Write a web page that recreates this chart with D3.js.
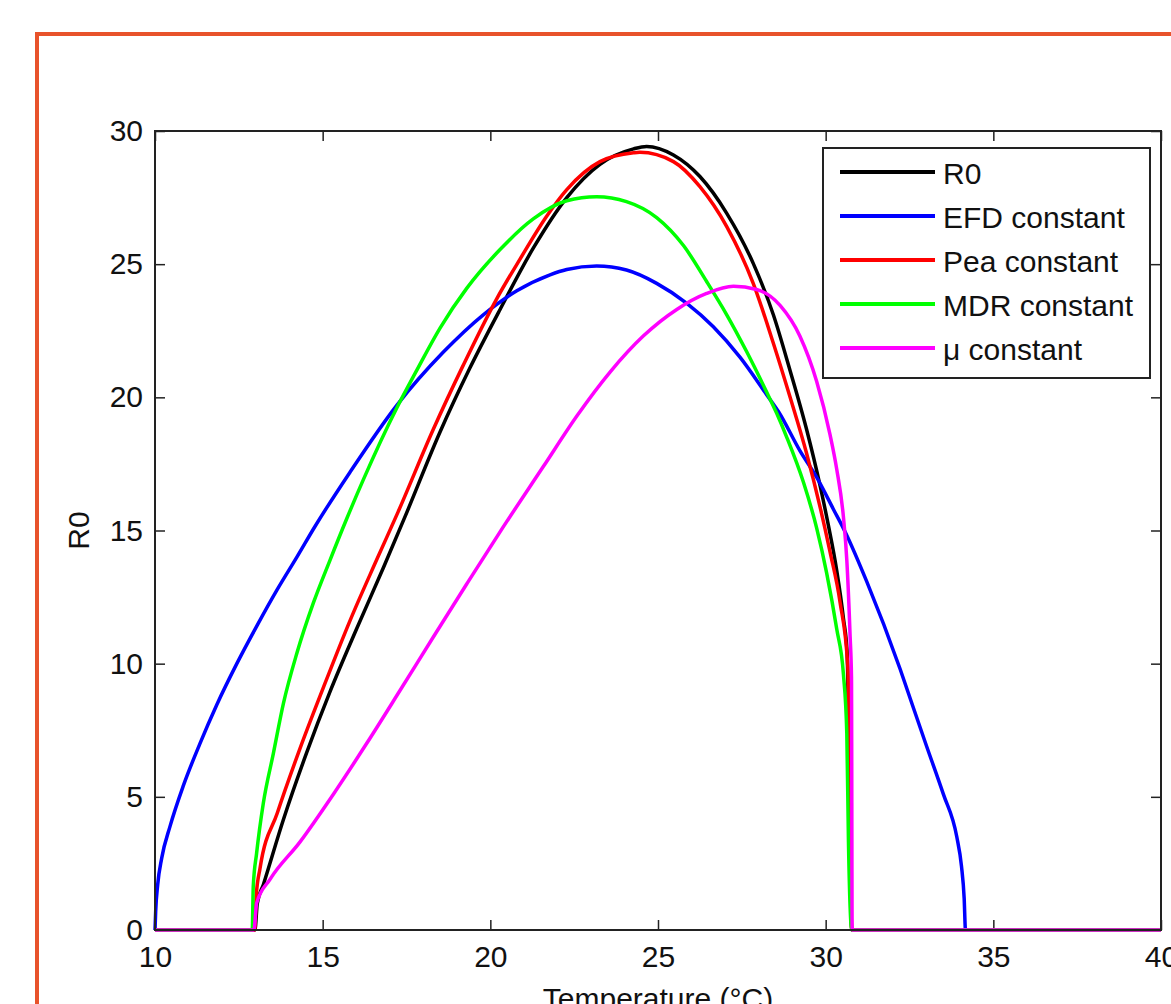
<!DOCTYPE html>
<html>
<head>
<meta charset="utf-8">
<script src="https://cdn.jsdelivr.net/npm/d3@7"></script>
<style>
  html, body { margin: 0; padding: 0; background: #fff; overflow: hidden; }
  svg { display: block; }
  text { font-family: "Liberation Sans", Arial, Helvetica, sans-serif; fill: #111; }
</style>
</head>
<body>
<svg id="chart" width="1171" height="1004"></svg>
<script>
// ---- data ----
const xTicks = [10, 15, 20, 25, 30, 35, 40];
const yTicks = [0, 5, 10, 15, 20, 25, 30];
const seriesNames = ["R0", "EFD constant", "Pea constant", "MDR constant", "\u03bc constant"];
const seriesColors = ["#000000", "#0000ff", "#ff0000", "#00ff00", "#ff00ff"];

const r0Temp = [10, 12.98, 13.05, 13.23, 13.83, 14.52, 15.22, 16.01, 16.81, 17.45, 18.5, 19.39, 20.29, 21.28, 22.28, 23.27, 24.27, 24.66, 25.46, 26.25, 27.05, 27.84, 28.44, 28.94, 29.43, 29.83, 30.08, 30.33, 30.53, 30.64, 30.78, 40];
const r0Vals = [0, 0, 1.0, 1.7, 4.15, 6.65, 8.95, 11.3, 13.6, 15.5, 18.7, 21.1, 23.3, 25.6, 27.5, 28.75, 29.33, 29.42, 29.1, 28.29, 26.91, 25.03, 23.1, 21.0, 18.8, 16.7, 15.2, 13.5, 11.7, 10.4, 0, 0];

const efdTemp = [10, 10.02, 10.08, 10.2, 10.45, 10.84, 11.34, 11.84, 12.44, 13.03, 13.63, 14.23, 14.77, 15.82, 17.21, 18.6, 19.79, 20.79, 21.78, 22.28, 23.17, 24.06, 24.96, 25.86, 26.65, 27.45, 28.24, 28.6, 29.23, 29.73, 30.23, 30.6, 31.22, 32.22, 32.6, 33.01, 33.51, 33.91, 34.05, 34.13, 34.17, 40];
const efdVals = [0, 0.7, 1.7, 2.7, 3.9, 5.4, 7.0, 8.45, 10.0, 11.4, 12.75, 14.0, 15.15, 17.2, 19.7, 21.7, 23.1, 24.0, 24.6, 24.8, 24.93, 24.78, 24.28, 23.53, 22.65, 21.5, 20.1, 19.45, 18.0, 17.0, 15.8, 14.9, 13.1, 9.8, 8.4, 6.9, 5.1, 3.5, 2.4, 1.2, 0, 0];

const peaTemp = [10, 12.97, 13.02, 13.13, 13.65, 14.32, 15.02, 15.81, 16.61, 17.25, 18.3, 19.19, 20.19, 20.89, 21.68, 22.28, 23.27, 24.27, 24.46, 25.46, 26.25, 27.05, 27.84, 28.44, 28.94, 29.43, 29.83, 30.13, 30.43, 30.66, 30.78, 40];
const peaVals = [0, 0, 1.3, 2.3, 4.4, 6.8, 9.1, 11.6, 13.9, 15.7, 18.8, 21.2, 23.7, 25.2, 26.8, 27.8, 28.85, 29.18, 29.2, 28.85, 27.91, 26.41, 24.28, 22.03, 20.0, 17.9, 15.9, 14.2, 12.3, 9.9, 0, 0];

const mdrTemp = [10, 12.9, 12.93, 13.03, 13.23, 13.53, 13.83, 14.23, 14.72, 15.22, 15.72, 16.21, 17.21, 17.8, 18.5, 19.3, 20.29, 21.28, 22.28, 23.17, 24.06, 24.96, 25.76, 26.45, 27.05, 27.65, 28.24, 28.54, 28.84, 29.34, 29.73, 30.03, 30.33, 30.53, 30.63, 30.68, 30.78, 40];
const mdrVals = [0, 0, 1.63, 2.88, 4.76, 6.63, 8.51, 10.39, 12.27, 13.89, 15.45, 16.9, 19.6, 21.0, 22.6, 24.1, 25.55, 26.7, 27.38, 27.53, 27.35, 26.75, 25.7, 24.35, 23.1, 21.7, 20.2, 19.4, 18.5, 16.8, 15.1, 13.4, 11.3, 9.6, 7.4, 3.3, 0, 0];

const muTemp = [10, 12.95, 13.03, 13.43, 14.32, 15.32, 16.31, 17.31, 18.3, 19.3, 20.29, 21.58, 22.58, 23.57, 24.56, 25.56, 26.45, 27.25, 27.94, 28.64, 29.23, 29.73, 30.13, 30.33, 30.53, 30.63, 30.73, 30.77, 30.79, 40];
const muVals = [0, 0, 1.0, 1.9, 3.3, 5.1, 7.0, 9.0, 11.0, 13.0, 14.95, 17.4, 19.3, 20.95, 22.3, 23.3, 23.9, 24.17, 24.05, 23.45, 22.3, 20.6, 18.6, 17.3, 15.5, 13.9, 11.0, 9.5, 0, 0];

const seriesTemps = [r0Temp, efdTemp, peaTemp, mdrTemp, muTemp];
const seriesVals = [r0Vals, efdVals, peaVals, mdrVals, muVals];

// ---- drawing ----
const svg = d3.select("#chart");
const x = d3.scaleLinear().domain([10, 40]).range([155, 1161]);
const y = d3.scaleLinear().domain([0, 30]).range([930, 131]);

// orange frame
svg.append("rect")
  .attr("x", 37).attr("y", 34).attr("width", 1300).attr("height", 1200)
  .attr("fill", "none").attr("stroke", "#e8532b").attr("stroke-width", 4);

const fontSize = 30;

// axes
const gBottom = svg.append("g").attr("transform", `translate(0,${y(0)})`)
  .call(d3.axisBottom(x).tickValues(xTicks).tickSize(-10).tickSizeOuter(0).tickPadding(16).tickFormat(d3.format("d")));
const gTop = svg.append("g").attr("transform", `translate(0,${y(30)})`)
  .call(d3.axisTop(x).tickValues(xTicks).tickSize(-10).tickSizeOuter(0).tickFormat(""));
const gLeft = svg.append("g").attr("transform", `translate(${x(10)},0)`)
  .call(d3.axisLeft(y).tickValues(yTicks).tickSize(-10).tickSizeOuter(0).tickPadding(12).tickFormat(d3.format("d")));
const gRight = svg.append("g").attr("transform", `translate(${x(40)},0)`)
  .call(d3.axisRight(y).tickValues(yTicks).tickSize(-10).tickSizeOuter(0).tickFormat(""));

[gBottom, gTop, gLeft, gRight].forEach(g => {
  g.select(".domain").remove();
  g.selectAll(".tick line").attr("stroke", "#222").attr("stroke-width", 1.5);
  g.selectAll("text").attr("font-size", fontSize)
    .attr("font-family", '"Liberation Sans", Arial, sans-serif').attr("fill", "#111");
});

// curves
const line = d3.line().x(d => x(d[0])).y(d => y(d[1])).curve(d3.curveMonotoneX);
seriesTemps.forEach((temps, i) => {
  const pts = temps.map((t, j) => [t, seriesVals[i][j]]);
  svg.append("path")
    .attr("d", line(pts))
    .attr("fill", "none")
    .attr("stroke", seriesColors[i])
    .attr("stroke-width", 3.5)
    .attr("stroke-linejoin", "round");
});

// plot box
svg.append("rect")
  .attr("x", x(10)).attr("y", y(30))
  .attr("width", x(40) - x(10)).attr("height", y(0) - y(30))
  .attr("fill", "none").attr("stroke", "#222").attr("stroke-width", 2);

// axis titles
svg.append("text")
  .attr("x", (x(10) + x(40)) / 2).attr("y", 1009)
  .attr("text-anchor", "middle").attr("font-size", fontSize)
  .text("Temperature (\u00b0C)");
svg.append("text")
  .attr("transform", `translate(89,${y(15)}) rotate(-90)`)
  .attr("text-anchor", "middle").attr("font-size", fontSize)
  .text("R0");

// legend
const leg = svg.append("g");
leg.append("rect")
  .attr("x", 823).attr("y", 148).attr("width", 327).attr("height", 230)
  .attr("fill", "#fff").attr("stroke", "#222").attr("stroke-width", 2);
const legRowY = d3.scalePoint().domain(seriesNames).range([172, 348]);
seriesNames.forEach((name, i) => {
  const ry = legRowY(name);
  leg.append("line")
    .attr("x1", 840).attr("x2", 935).attr("y1", ry).attr("y2", ry)
    .attr("stroke", seriesColors[i]).attr("stroke-width", 4);
  leg.append("text")
    .attr("x", 943).attr("y", ry + 12)
    .attr("font-size", fontSize)
    .text(name);
});
</script>
</body>
</html>
